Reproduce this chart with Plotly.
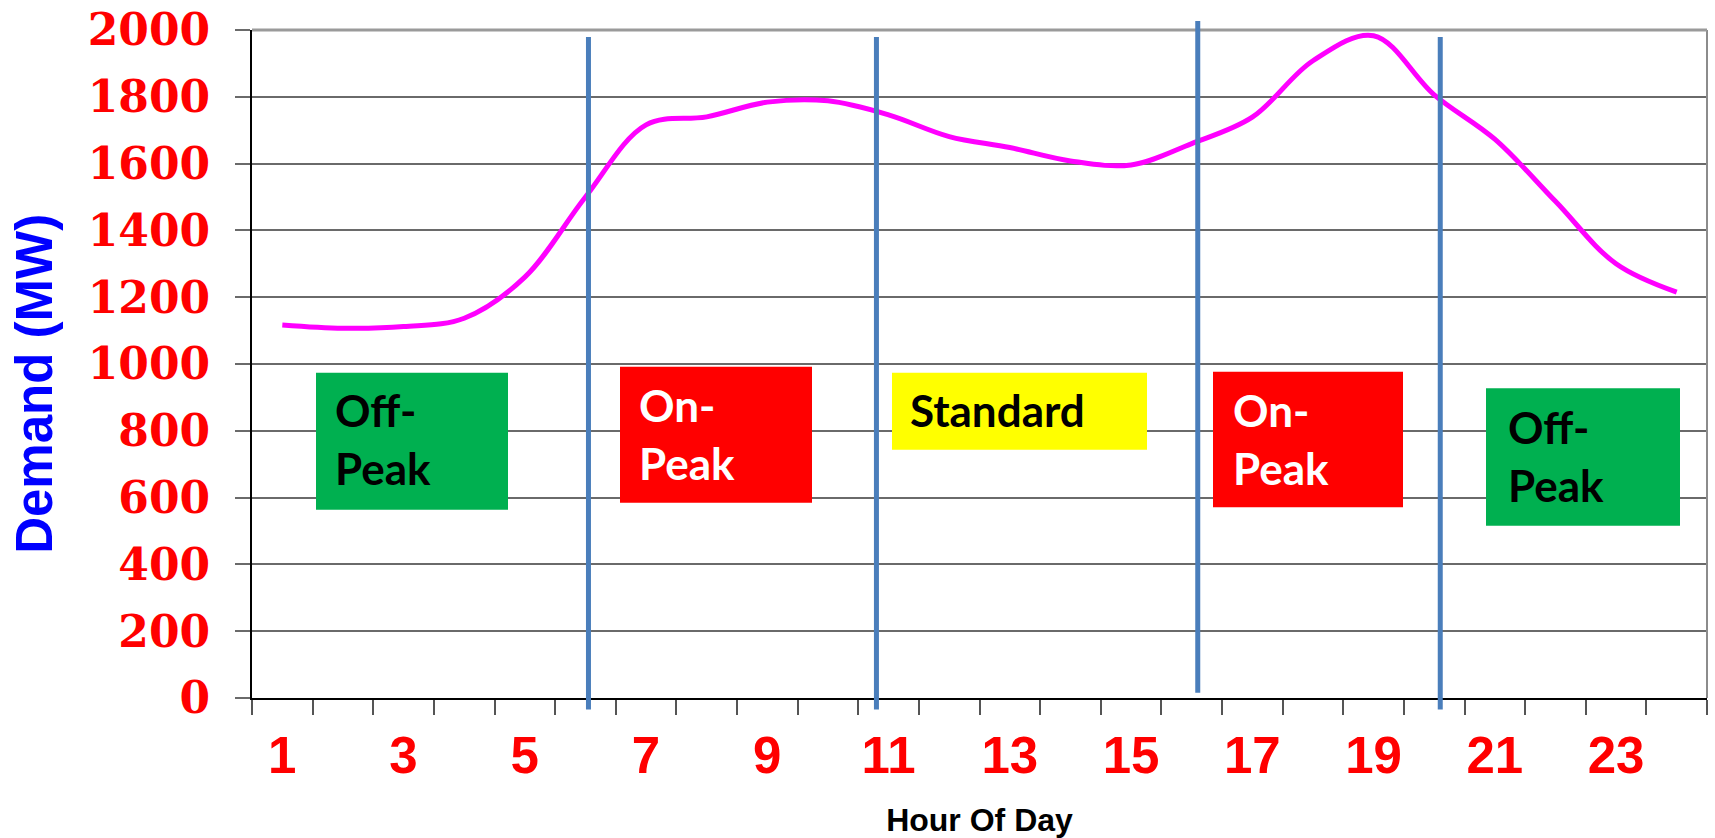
import plotly.graph_objects as go

# ---- data ----
hours = list(range(1, 25))
demand = [1117, 1107, 1112, 1137, 1260, 1500, 1716, 1740, 1784, 1788, 1746, 1681,
          1648, 1608, 1596, 1660, 1739, 1908, 1983, 1806, 1673, 1487, 1300, 1215]
x_tick_vals = [1, 3, 5, 7, 9, 11, 13, 15, 17, 19, 21, 23]
x_tick_text = ["1", "3", "5", "7", "9", "11", "13", "15", "17", "19", "21", "23"]
period_boundaries = [6.05, 10.8, 16.1, 20.1]
period_names = ["Off-\nPeak", "On-\nPeak", "Standard", "On-\nPeak", "Off-\nPeak"]
period_colors = ["#00B050", "#FF0000", "#FFFF00", "#FF0000", "#00B050"]
period_text_colors = ["black", "white", "black", "white", "black"]

# ---- layout geometry (pixels of the 1715x838 page) ----
W, H = 1715, 838
L, R, T, B = 252, 1707, 30, 698.3   # plot area in page pixels


def fx(px):
    return (px - L) / (R - L)


def fy(py):
    return (B - py) / (B - T)


fig = go.Figure()
fig.add_trace(go.Scatter(
    x=hours, y=demand, mode="lines",
    line=dict(color="#FF00FF", width=5, shape="spline", smoothing=1.0),
    showlegend=False, hoverinfo="x+y"))

shapes = []
# right / top border of plot area
shapes.append(dict(type="line", xref="paper", yref="paper", x0=1, x1=1, y0=0, y1=1,
                   line=dict(color="#8c8c8c", width=2)))
shapes.append(dict(type="line", xref="paper", yref="paper", x0=0, x1=1, y0=1, y1=1,
                   line=dict(color="#9a9a9a", width=3)))

# blue period dividers
line_tops = [37, 37, 21, 37]
line_bots = [709.7, 709.7, 693, 709.7]
for xb, tp, bt in zip(period_boundaries, line_tops, line_bots):
    shapes.append(dict(type="line", xref="x", yref="paper", x0=xb, x1=xb,
                       y0=fy(bt), y1=fy(tp), line=dict(color="#4A7EBB", width=5)))

# period boxes (left, top, right, bottom) in page pixels
boxes = [(316, 373, 508, 510), (620, 367, 812, 503), (892, 373, 1147, 450),
         (1213, 372, 1403, 507.5), (1486, 388.5, 1680, 526)]
for (x0, y0, x1, y1), c in zip(boxes, period_colors):
    shapes.append(dict(type="rect", xref="paper", yref="paper",
                       x0=fx(x0), x1=fx(x1), y0=fy(y1), y1=fy(y0),
                       fillcolor=c, line=dict(width=0), layer="above"))

# text line positions: (left x, cap-center y of first line)
text_pos = [(333, 410), (637, 405), (908, 410), (1231, 410), (1506, 427)]
line_gap = 58
annotations = []
for name, (tx, ty), tc in zip(period_names, text_pos, period_text_colors):
    for i, part in enumerate(name.split("\n")):
        annotations.append(dict(
            xref="paper", yref="paper", x=fx(tx), y=fy(ty + i * line_gap),
            xanchor="left", yanchor="middle", showarrow=False, text=part,
            font=dict(family="Lato", size=44, color=tc, weight="bold")))

# y-axis title (rotated annotation, centred a little below the plot middle)
annotations.append(dict(
    xref="paper", yref="paper", x=fx(35), y=fy(384), xanchor="center", yanchor="middle",
    textangle=-90, showarrow=False, text="Demand (MW)",
    font=dict(family="Liberation Sans", size=51, color="#0000FF", weight="bold")))

fig.update_layout(
    width=W, height=H,
    margin=dict(l=L, r=W - R, t=T, b=H - B, autoexpand=False),
    paper_bgcolor="white", plot_bgcolor="white",
    shapes=shapes, annotations=annotations,
    xaxis=dict(
        range=[0.5, 24.5], tickmode="array", tickvals=x_tick_vals, ticktext=x_tick_text,
        ticks="", showgrid=False, zeroline=False, automargin=False,
        showline=True, linecolor="black", linewidth=2, ticklabeloverflow="allow",
        tickfont=dict(family="Liberation Sans", size=51, color="#FF0000", weight="bold"),
        ticklabelstandoff=12,
        minor=dict(tickmode="array", tickvals=[h - 0.5 for h in hours] + [24.5],
                   ticks="outside", ticklen=15, tickwidth=1.5, tickcolor="#555555",
                   showgrid=False),
        title=dict(text="Hour Of Day", standoff=28,
                   font=dict(family="Liberation Sans", size=32, color="black", weight="bold")),
    ),
    yaxis=dict(
        range=[0, 2000], tickmode="linear", tick0=0, dtick=200,
        showgrid=True, gridcolor="#6a6a6a", gridwidth=1.5, zeroline=False, automargin=False,
        showline=True, linecolor="black", linewidth=2, ticklabeloverflow="allow",
        ticks="outside", ticklen=15, tickwidth=1.5, tickcolor="#6a6a6a",
        tickfont=dict(family="DejaVu Serif", size=44, color="#FF0000", weight="bold"),
        ticklabelstandoff=16,
    ),
)

# remove the browser's default 8px body margin so the figure fills the window exactly
fig.write_html("out.html", config={"displayModeBar": False},
               post_script="document.body.style.margin='0px';document.body.style.overflow='hidden';")
